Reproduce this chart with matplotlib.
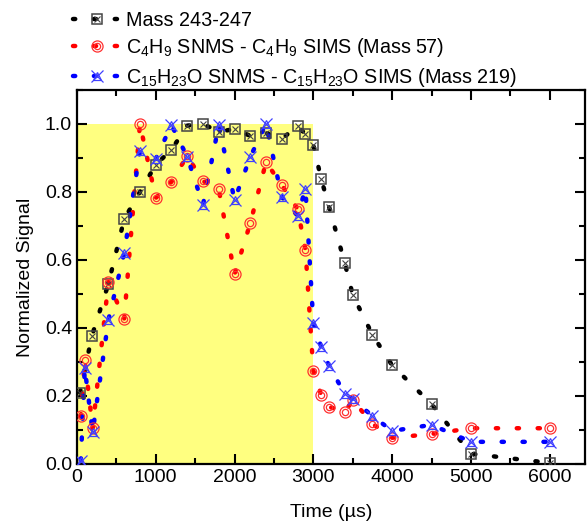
import matplotlib
matplotlib.use('Agg')
import matplotlib.pyplot as plt
from matplotlib.legend_handler import HandlerTuple
from matplotlib.ticker import MultipleLocator

plt.rcParams['font.family'] = ['Liberation Sans', 'DejaVu Sans']
plt.rcParams['mathtext.fontset'] = 'custom'
plt.rcParams['mathtext.rm'] = 'Liberation Sans'
plt.rcParams['mathtext.it'] = 'Liberation Sans'

# time axis (us) for each series
t_black = [40, 190, 400, 600, 800, 1000, 1200, 1400, 1600, 1800, 2000, 2200, 2400,
           2600, 2800, 2900, 3000, 3100, 3200, 3400, 3500, 3750, 4000, 4500, 5000, 6000]
mass_243 = [0.21, 0.376, 0.53, 0.72, 0.80, 0.88, 0.924, 0.995, 1.0, 0.977, 0.985, 0.965, 0.973,
            0.956, 0.994, 0.97, 0.938, 0.838, 0.756, 0.59, 0.497, 0.38, 0.29, 0.176, 0.03, 0.003]

t_c4 = [50, 100, 200, 400, 600, 800, 1000, 1200, 1400, 1600, 1800, 2000, 2200, 2400,
        2600, 2800, 2900, 3000, 3100, 3200, 3400, 3500, 3750, 4000, 4500, 5000, 6000]
c4h9 = [0.14, 0.306, 0.105, 0.535, 0.426, 1.0, 0.782, 0.83, 0.906, 0.832, 0.808, 0.558, 0.708, 0.888,
        0.82, 0.75, 0.63, 0.274, 0.203, 0.168, 0.153, 0.188, 0.118, 0.077, 0.088, 0.105, 0.105]

t_c15 = [50, 100, 200, 400, 600, 800, 1000, 1200, 1400, 1600, 1800, 2000, 2200, 2400,
         2600, 2800, 2900, 3000, 3100, 3200, 3400, 3500, 3750, 4000, 4500, 5000, 6000]
c15h23o = [0.01, 0.282, 0.094, 0.424, 0.62, 0.92, 0.897, 0.997, 0.903, 0.762, 0.997, 0.776, 0.903, 1.0,
           0.785, 0.73, 0.809, 0.415, 0.344, 0.288, 0.206, 0.19, 0.141, 0.097, 0.115, 0.065, 0.065]

labels = ['Mass 243-247',
          r'C$_4$H$_9$ SNMS - C$_4$H$_9$ SIMS (Mass 57)',
          r'C$_{15}$H$_{23}$O SNMS - C$_{15}$H$_{23}$O SIMS (Mass 219)']

pulse_t = [0, 3000]
pulse_level = 1.0

fig = plt.figure(figsize=(5.87, 5.26), dpi=100)
ax = fig.add_axes([0.131, 0.118, 0.866, 0.711])

ax.fill_between(pulse_t, 0, pulse_level, color='#ffff80', lw=0, zorder=0)

dot = (0, (0.5, 4.2))
lw = 3.2

def series(t, y, color, mk):
    ln, = ax.plot(t, y, color=color, lw=lw, ls=dot, dash_capstyle='round', zorder=2)
    marks = []
    for m in mk:
        p, = ax.plot(t, y, ls='none', zorder=3, **m)
        marks.append(p)
    return tuple([ln] + marks)

h1 = series(t_black, mass_243, 'black',
            [dict(marker='s', ms=7.5, mfc='none', mec='#444444', mew=1.1),
             dict(marker='x', ms=5, mec='#444444', mew=0.8)])
h2 = series(t_c4, c4h9, 'red',
            [dict(marker='o', ms=8, mfc='none', mec='#ff3030', mew=0.9),
             dict(marker='o', ms=4.5, mfc='none', mec='#ff3030', mew=0.9)])
h3 = series(t_c15, c15h23o, 'blue',
            [dict(marker='x', ms=9, mec='#4040ff', mew=0.9),
             dict(marker='^', ms=5.5, mfc='none', mec='#4040ff', mew=0.9)])

ax.set_xlim(0, 6450)
ax.set_ylim(0, 1.1)
ax.xaxis.set_major_locator(MultipleLocator(1000))
ax.xaxis.set_minor_locator(MultipleLocator(500))
ax.yaxis.set_major_locator(MultipleLocator(0.2))
ax.yaxis.set_minor_locator(MultipleLocator(0.1))
ax.yaxis.set_major_formatter(plt.FormatStrFormatter('%.1f'))
ax.tick_params(which='both', direction='in', top=True, right=True, width=1.5, labelsize=14)
ax.tick_params(which='major', length=7)
ax.tick_params(which='minor', length=4)
for s in ax.spines.values():
    s.set_linewidth(1.6)

ax.set_xlabel('Time (\u00b5s)', fontsize=14, labelpad=13)
ax.set_ylabel('Normalized Signal', fontsize=14, labelpad=8)

fig.legend([h1, h2, h3], labels, loc='upper left', bbox_to_anchor=(0.125, 0.98),
           frameon=False, fontsize=14.2, handlelength=2.4, handletextpad=0.25,
           labelspacing=0.33, borderpad=0, borderaxespad=0,
           handler_map={tuple: HandlerTuple(ndivide=1)})

fig.savefig('out.png', dpi=100)
